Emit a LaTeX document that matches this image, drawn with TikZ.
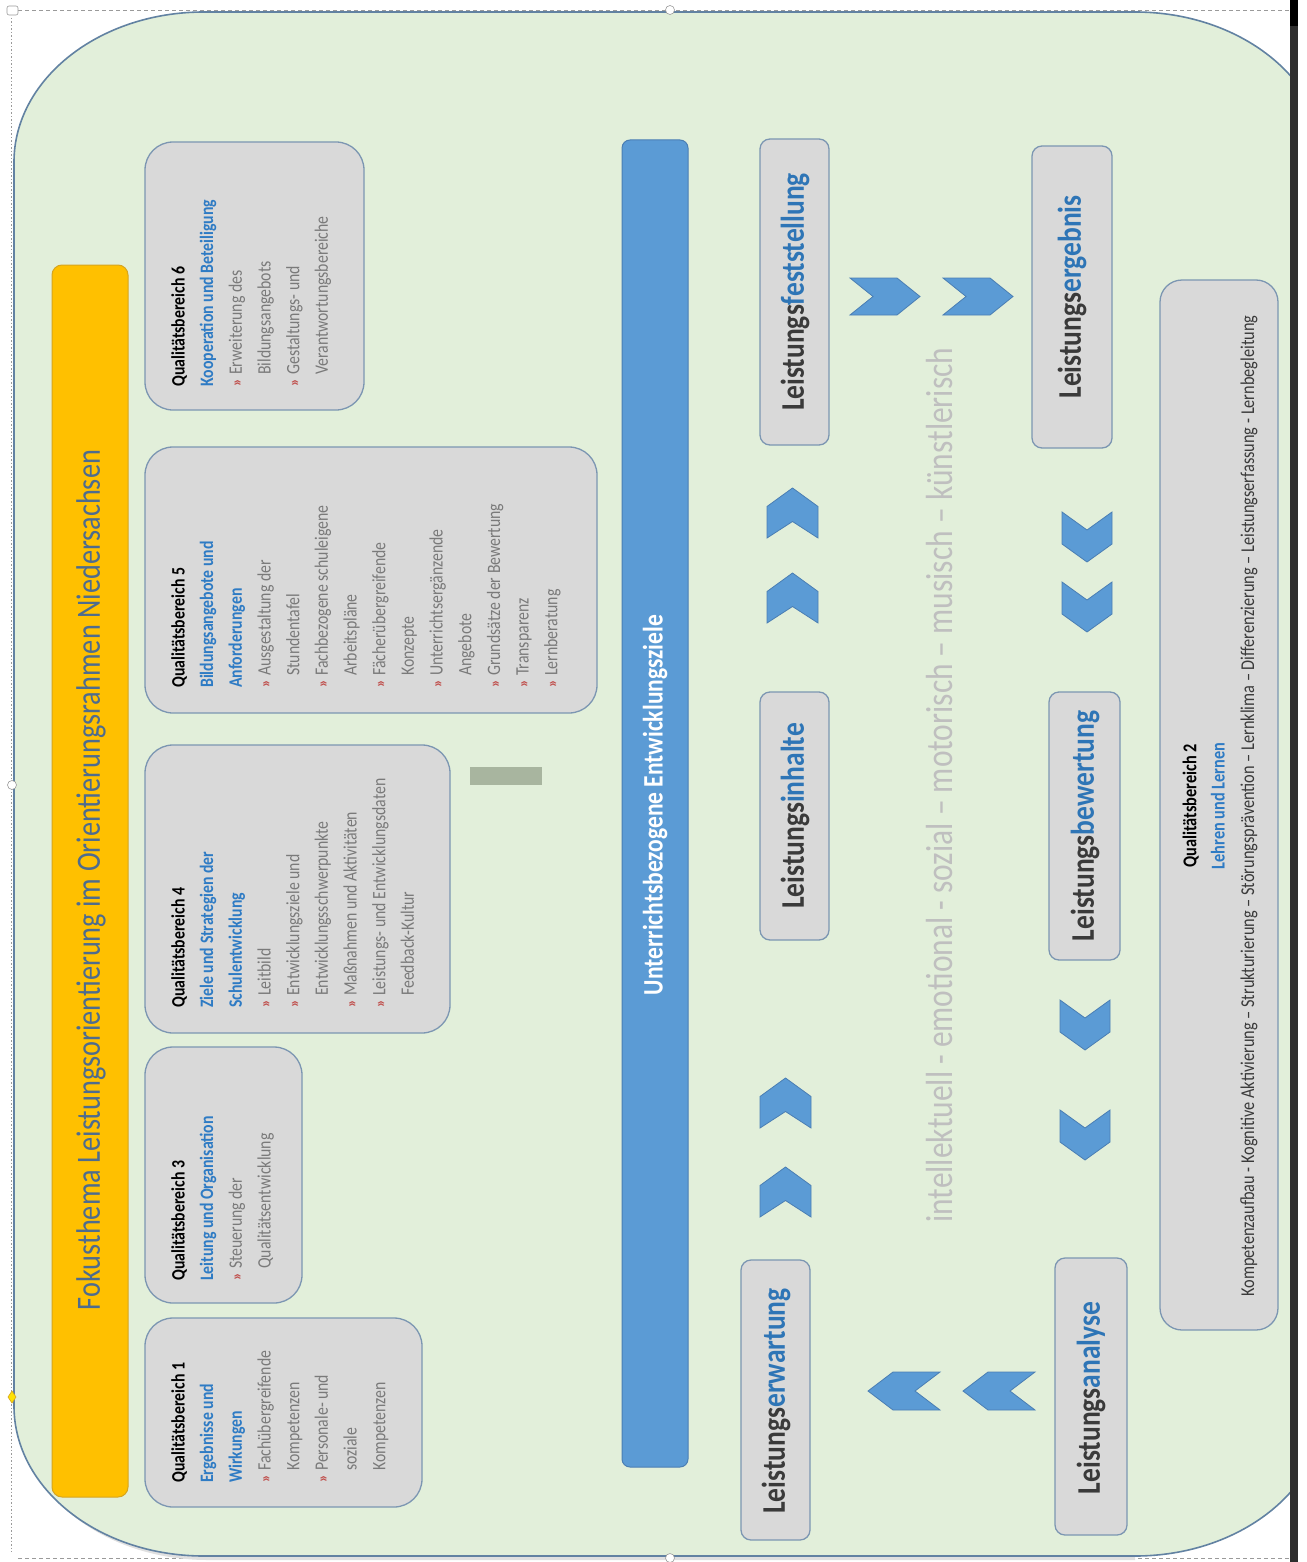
\documentclass[tikz,border=0pt]{standalone}
\usepackage{fontspec}
\setmainfont{Carlito}
\definecolor{bggreen}{HTML}{E2EFDA}
\definecolor{bgline}{HTML}{6282A2}
\definecolor{qbfill}{HTML}{D9D9D9}
\definecolor{qbline}{HTML}{7C96B2}
\definecolor{fokusorange}{HTML}{FFC000}
\definecolor{orangeline}{HTML}{D6A520}
\definecolor{titleblue}{HTML}{4E6C8E}
\definecolor{barblue}{HTML}{5B9BD5}
\definecolor{barline}{HTML}{4A7EB3}
\definecolor{qbblue}{HTML}{2E7BC4}
\definecolor{itemgray}{HTML}{7A7A7A}
\definecolor{bulred}{HTML}{C0504D}
\definecolor{lbgray}{HTML}{3A3A3A}
\definecolor{lbblue}{HTML}{2E75B6}
\definecolor{dimgraytext}{HTML}{BFBFBF}
\definecolor{smallrect}{HTML}{A8B59F}
\definecolor{framegray}{HTML}{9A9A9A}
\definecolor{bardark}{HTML}{2E2E2E}
\newcommand\bl{\makebox[12pt][l]{\textcolor{bulred}{\fontsize{14}{14}\selectfont\bfseries »}}}
\newcommand\ind{\hspace*{12pt}}
\newcommand\hd[1]{\textcolor{black}{\bfseries #1}}
\newcommand\bh[1]{\textcolor{qbblue}{\bfseries #1}}
\newcommand\chevUp[2]{\draw[chev] (#1+25.5,#2) -- ++(25.5,18.5) -- ++(0,31.5) -- ++(-25.5,-16.5) -- ++(-25.5,16.5) -- ++(0,-31.5) -- cycle;}
\newcommand\chevDown[2]{\draw[chev] (#1,#2) -- ++(25,18) -- ++(25,-18) -- ++(0,32) -- ++(-25,18) -- ++(-25,-18) -- cycle;}
\newcommand\chevRight[2]{\draw[chev] (#1,#2) -- ++(47,0) -- ++(23,18.5) -- ++(-23,18.5) -- ++(-47,0) -- ++(23,-18.5) -- cycle;}
\newcommand\chevLeft[2]{\draw[chev] (#1+72,#2) -- ++(-47,0) -- ++(-25,19) -- ++(25,19) -- ++(47,0) -- ++(-25,-19) -- cycle;}
\begin{document}
\begin{tikzpicture}[x=1pt,y=-1pt,
  rt/.style={rotate=90, yscale=1.2, inner sep=0pt},
  qb/.style={draw=qbline, fill=qbfill, line width=1.3pt, rounded corners=28pt},
  lb/.style={draw=qbline, fill=qbfill, line width=1.3pt, rounded corners=10pt},
  chev/.style={draw=barline, fill=barblue, line width=0.8pt, line join=miter},
  qbtext/.style={rt, anchor=north west, align=left, font=\fontsize{15.8}{23.9}\selectfont, text=itemgray},
  lbtext/.style={rt, font=\fontsize{27.5}{30}\selectfont\bfseries, text=lbgray},
  handle/.style={draw=framegray, fill=white, line width=0.6pt}
]
\useasboundingbox (0,0) rectangle (1306,1562);
\fill[white] (0,0) rectangle (1306,1562);

% selection frame
\draw[framegray, line width=0.8pt, dash pattern=on 4pt off 3pt] (18,10) -- (1290,10);
\draw[framegray, line width=0.8pt, dash pattern=on 4pt off 3pt] (18,1558) -- (1290,1558);
\draw[framegray, line width=1pt, dash pattern=on 1.5pt off 2pt] (11,18) -- (11,1552);

% green background with elliptical corners
\begin{scope}
\clip (0,0) rectangle (1290,1562);
\draw[fill=black!12, draw=none] (18,168) .. controls (18,85) and (103,16) .. (208,16)
  -- (1135,16) -- (1135,1560) -- (208,1560) .. controls (103,1560) and (18,1493) .. (18,1410) -- cycle;
\draw[fill=bggreen, draw=bgline, line width=1.6pt]
  (14,162) .. controls (14,79.2) and (99.1,12) .. (204,12)
  -- (1135,12) .. controls (1239.9,12) and (1325,79.2) .. (1325,162)
  -- (1325,1406) .. controls (1325,1488.8) and (1239.9,1556) .. (1135,1556)
  -- (204,1556) .. controls (99.1,1556) and (14,1488.8) .. (14,1406) -- cycle;
\end{scope}
\fill[bardark] (1290,0) rectangle (1298,1562);
\fill[black] (1290,0) rectangle (1298,26);

% handles
\draw[handle, rounded corners=2pt] (7,6) rectangle (18,15);
\draw[handle] (670,10) circle (4.5pt);
\draw[handle] (670,1558) circle (4.5pt);
\draw[handle] (12,785) circle (4.5pt);
\draw[fill=yellow!85!orange, draw=orangeline, line width=0.6pt] (12,1391) -- (16,1397) -- (12,1403) -- (8,1397) -- cycle;

% title bar
\draw[fill=fokusorange, draw=orangeline, line width=1pt, rounded corners=10pt] (52,265) rectangle (128,1497);
\node[rt, font=\fontsize{28.3}{30}\selectfont, text=titleblue] (title) at (91,880) {Fokusthema Leistungsorientierung im Orientierungsrahmen Niedersachsen};

% Qualitaetsbereiche boxes
\draw[qb] (145,1318) rectangle (422,1507);
\draw[qb] (145,1047) rectangle (302,1303);
\draw[qb] (145,745) rectangle (450,1033);
\draw[qb] (145,447) rectangle (597,713);
\draw[qb] (145,142) rectangle (364,410);

\node[qbtext] (qb1) at (171,1483) {\hd{Qualitätsbereich 1}\\ \bh{Ergebnisse und}\\ \bh{Wirkungen}\\ \bl Fachübergreifende\\ \ind Kompetenzen\\ \bl Personale- und\\ \ind soziale\\ \ind Kompetenzen};
\node[qbtext] (qb3) at (171,1281) {\hd{Qualitätsbereich 3}\\ \bh{Leitung und Organisation}\\ \bl Steuerung der\\ \ind Qualitätsentwicklung};
\node[qbtext] (qb4) at (171,1008) {\hd{Qualitätsbereich 4}\\ \bh{Ziele und Strategien der}\\ \bh{Schulentwicklung}\\ \bl Leitbild\\ \bl Entwicklungsziele und\\ \ind Entwicklungsschwerpunkte\\ \bl Maßnahmen und Aktivitäten\\ \bl Leistungs- und Entwicklungsdaten\\ \ind Feedback-Kultur};
\node[qbtext] (qb5) at (171,688) {\hd{Qualitätsbereich 5}\\ \bh{Bildungsangebote und}\\ \bh{Anforderungen}\\ \bl Ausgestaltung der\\ \ind Stundentafel\\ \bl Fachbezogene schuleigene\\ \ind Arbeitspläne\\ \bl Fächerübergreifende\\ \ind Konzepte\\ \bl Unterrichtsergänzende\\ \ind Angebote\\ \bl Grundsätze der Bewertung\\ \bl Transparenz\\ \bl Lernberatung};
\node[qbtext] (qb6) at (171,387) {\hd{Qualitätsbereich 6}\\ \bh{Kooperation und Beteiligung}\\ \bl Erweiterung des\\ \ind Bildungsangebots\\ \bl Gestaltungs- und\\ \ind Verantwortungsbereiche};

% small rectangle
\fill[smallrect] (470,767) rectangle (542,785);

% blue bar
\draw[fill=barblue, draw=barline, line width=1pt, rounded corners=8pt] (622,140) rectangle (688,1467);
\node[rt, font=\fontsize{23.5}{25}\selectfont\bfseries, text=white] (ziele) at (655,805) {Unterrichtsbezogene Entwicklungsziele};

% Leistungs boxes
\draw[lb] (741,1260) rectangle (810,1540);
\draw[lb] (760,692) rectangle (829,940);
\draw[lb] (760,139) rectangle (829,445);
\draw[lb] (1032,146) rectangle (1112,448);
\draw[lb] (1049,692) rectangle (1120,960);
\draw[lb] (1055,1258) rectangle (1127,1535);
\node[lbtext] (lerw) at (776,1401) {Leistungs\textcolor{lbblue}{erwartung}};
\node[lbtext] (linh) at (795,816) {Leistungs\textcolor{lbblue}{inhalte}};
\node[lbtext] (lfest) at (795,292) {Leistungs\textcolor{lbblue}{feststellung}};
\node[lbtext] (lerg) at (1072,297) {Leistungs\textcolor{lbblue}{ergebnis}};
\node[lbtext] (lbew) at (1085,826) {Leistungs\textcolor{lbblue}{bewertung}};
\node[lbtext] (lana) at (1091,1398) {Leistungs\textcolor{lbblue}{analyse}};

% chevrons
\chevUp{767}{488}
\chevUp{767}{573}
\chevUp{760}{1078}
\chevUp{760}{1167}
\chevDown{1062}{512}
\chevDown{1062}{582}
\chevDown{1060}{1000}
\chevDown{1060}{1110}
\chevRight{850}{278}
\chevRight{943}{278}
\chevLeft{868}{1372}
\chevLeft{963}{1372}

% dimensions text
\node[rt, font=\fontsize{31.5}{33}\selectfont, text=dimgraytext] (dims) at (940,785) {intellektuell - emotional - sozial – motorisch – musisch – künstlerisch};

% Qualitaetsbereich 2
\draw[qb, rounded corners=22pt] (1160,280) rectangle (1278,1330);
\node[rt, align=center, font=\fontsize{16.3}{23.5}\selectfont] (qb2) at (1220,806) {\hd{Qualitätsbereich 2}\\ \bh{Lehren und Lernen}\\[1pt] \textcolor{lbgray}{Kompetenzaufbau - Kognitive Aktivierung – Strukturierung – Störungsprävention – Lernklima – Differenzierung – Leistungserfassung - Lernbegleitung}};
\end{tikzpicture}
\end{document}
